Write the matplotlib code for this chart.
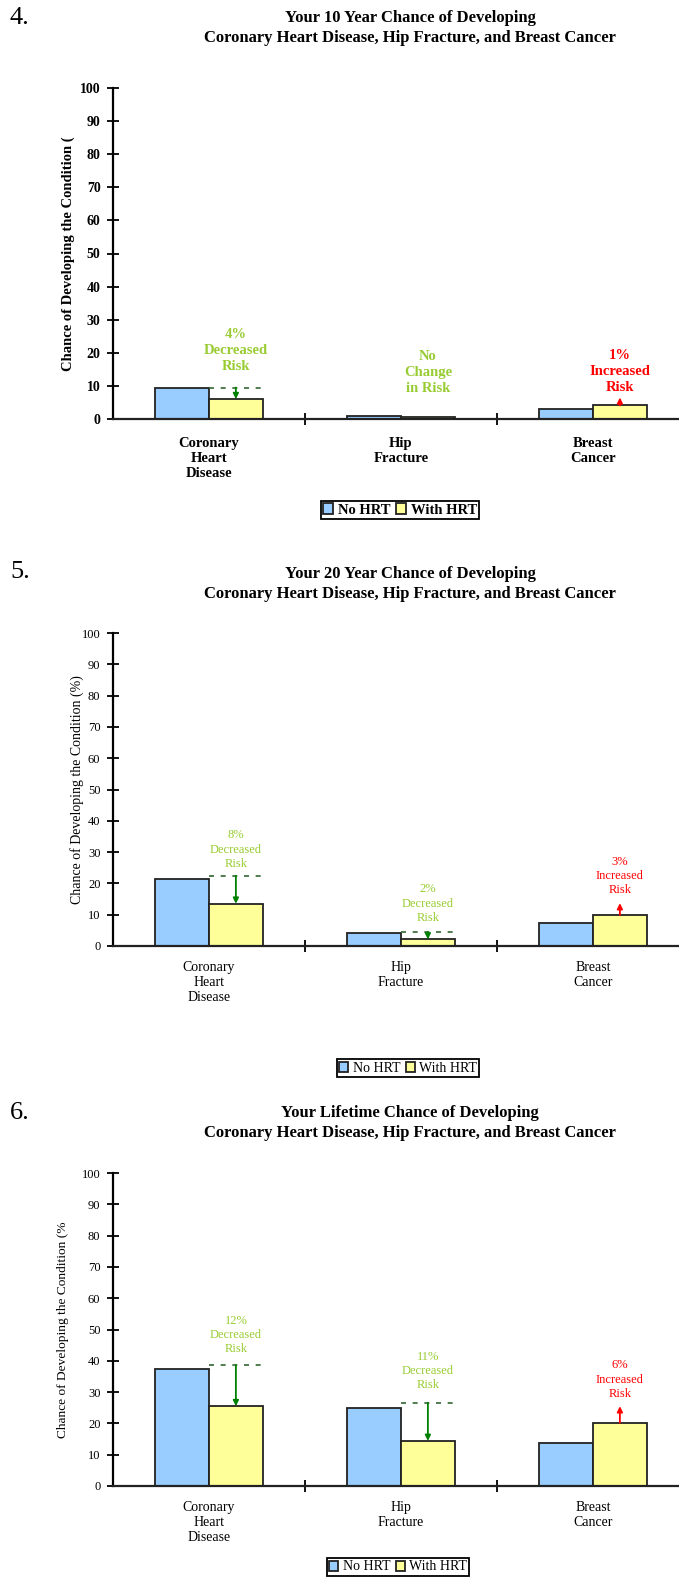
# Three bar charts: chance of developing CHD, hip fracture and breast cancer
# with and without HRT (10 year, 20 year and lifetime)

import matplotlib.pyplot as plt
import numpy as np

plt.rcParams['font.family'] = ['Liberation Serif', 'DejaVu Serif']

W = 679
H = 1578

categories = ['Coronary\nHeart\nDisease', 'Hip\nFracture', 'Breast\nCancer']
series_names = ['No HRT', 'With HRT']

# values (% chance)
no_hrt_10 = [9.5, 1.0, 3.1]
with_hrt_10 = [6.0, 0.5, 4.1]
no_hrt_20 = [21.4, 4.2, 7.3]
with_hrt_20 = [13.5, 2.1, 9.9]
no_hrt_life = [37.5, 25.0, 13.8]
with_hrt_life = [25.5, 14.4, 20.2]

notes_10 = ['4%\nDecreased\nRisk', 'No\nChange\nin Risk', '1%\nIncreased\nRisk']
notes_20 = ['8%\nDecreased\nRisk', '2%\nDecreased\nRisk', '3%\nIncreased\nRisk']
notes_life = ['12%\nDecreased\nRisk', '11%\nDecreased\nRisk', '6%\nIncreased\nRisk']

titles = ['Your 10 Year Chance of Developing\nCoronary Heart Disease, Hip Fracture, and Breast Cancer',
          'Your 20 Year Chance of Developing\nCoronary Heart Disease, Hip Fracture, and Breast Cancer',
          'Your Lifetime Chance of Developing\nCoronary Heart Disease, Hip Fracture, and Breast Cancer']
ylabels = ['Chance of Developing the Condition (',
           'Chance of Developing the Condition (%)',
           'Chance of Developing the Condition (%']

BLUE = '#99CCFF'
YELLOW = '#FFFF99'
LIME = '#99CC33'
RED = '#FF0000'
DKGREEN = '#008000'


def draw_panel(fig, top, bottom, no_hrt, with_hrt, notes, note_y, dash_up,
               ylabel, bold, leg_xy, ylab_x, ylab_size):
    ax = fig.add_axes([113 / W, 1 - bottom / H, 576 / W, (bottom - top) / H])
    w = 'bold' if bold else 'normal'
    fs = 10.5 if bold else 10
    x = np.arange(len(categories))
    b1 = ax.bar(x - 0.14, no_hrt, width=0.28, color=BLUE, edgecolor='#222222', linewidth=1.3)
    b2 = ax.bar(x + 0.14, with_hrt, width=0.28, color=YELLOW, edgecolor='#222222', linewidth=1.3)

    ax.set_xlim(-0.5, 2.5)
    ax.set_ylim(0, 100)
    ax.set_yticks(range(0, 101, 10))
    ax.set_xticks(x)
    ax.set_xticklabels(categories, fontsize=fs, fontweight=w, linespacing=1.2)
    ax.set_xticks([0.5, 1.5], minor=True)
    ax.tick_params(axis='x', which='major', length=0, pad=(13 if bold else 11))
    ax.tick_params(axis='x', which='minor', direction='inout', length=8, width=1.3)
    ax.tick_params(axis='y', direction='inout', length=8, width=1.3, pad=5,
                   labelsize=(10 if bold else 9))
    for lab in ax.get_yticklabels():
        lab.set_fontweight(w)
    for s in ['top', 'right']:
        ax.spines[s].set_visible(False)
    for s in ['left', 'bottom']:
        ax.spines[s].set_linewidth(1.6)
    ax.spines['bottom'].set_color('#222222')

    fig.text(ylab_x / W, 1 - (top + bottom) / 2 / H, ylabel, rotation=90,
             ha='center', va='center', fontsize=ylab_size, fontweight=w)

    # change notes and arrows over the With HRT bars
    for i in range(len(categories)):
        xc = x[i] + 0.14
        up = with_hrt[i] > no_hrt[i]
        col = RED if up else LIME
        ax.text(xc, note_y[i], notes[i], ha='center', va='center', color=col,
                fontsize=(10.5 if bold else 9), fontweight=w,
                linespacing=(1.3 if bold else 1.25))
        if dash_up[i] is None:
            continue
        if up:
            ax.annotate('', xy=(xc, with_hrt[i] + dash_up[i]), xytext=(xc, with_hrt[i]),
                        arrowprops=dict(arrowstyle='-|>', color=RED, lw=1.3,
                                        mutation_scale=8, shrinkA=0, shrinkB=0))
        else:
            top_y = no_hrt[i] + dash_up[i]
            ax.plot([x[i], x[i] + 0.28], [top_y, top_y], color='#336633',
                    lw=1.2, linestyle=(0, (3, 4)))
            ax.annotate('', xy=(xc, with_hrt[i]), xytext=(xc, top_y),
                        arrowprops=dict(arrowstyle='-|>', color=DKGREEN, lw=1.3,
                                        mutation_scale=8, shrinkA=0, shrinkB=0))

    ax.legend([b1, b2], series_names, loc='center',
              bbox_to_anchor=(leg_xy[0] / W, 1 - leg_xy[1] / H),
              bbox_transform=fig.transFigure, ncol=2, frameon=True, fancybox=False,
              edgecolor='black', framealpha=1, borderpad=0.15, handlelength=0.7,
              handleheight=0.7, handletextpad=0.3, columnspacing=0.4,
              borderaxespad=0, prop={'size': (10.5 if bold else 10), 'weight': w})
    ax.get_legend().get_frame().set_linewidth(1.3)
    return ax


fig = plt.figure(figsize=(W / 100, H / 100), dpi=100)

# panel numbers and titles
for num, ty in [('4.', 18), ('5.', 572), ('6.', 1113)]:
    fig.text(10 / W, 1 - ty / H, num, fontsize=19, ha='left', va='center')
for t, ty in zip(titles, [28, 584, 1123]):
    fig.text(410 / W, 1 - ty / H, t, ha='center', va='center', fontsize=12,
             fontweight='bold', linespacing=1.3)

draw_panel(fig, 88, 419, no_hrt_10, with_hrt_10, notes_10,
           [20.7, 14.0, 14.3], [0.0, None, 2.4], ylabels[0], True,
           (400, 510), 68, 10.5)
draw_panel(fig, 633, 946, no_hrt_20, with_hrt_20, notes_20,
           [30.8, 13.5, 22.4], [1.0, 0.2, 3.8], ylabels[1], False,
           (408, 1068), 77, 10)
draw_panel(fig, 1173, 1486, no_hrt_life, with_hrt_life, notes_life,
           [48.2, 36.7, 34.0], [1.1, 1.6, 5.3], ylabels[2], False,
           (398, 1567), 63, 9.6)

fig.savefig('out.png', dpi=100)
